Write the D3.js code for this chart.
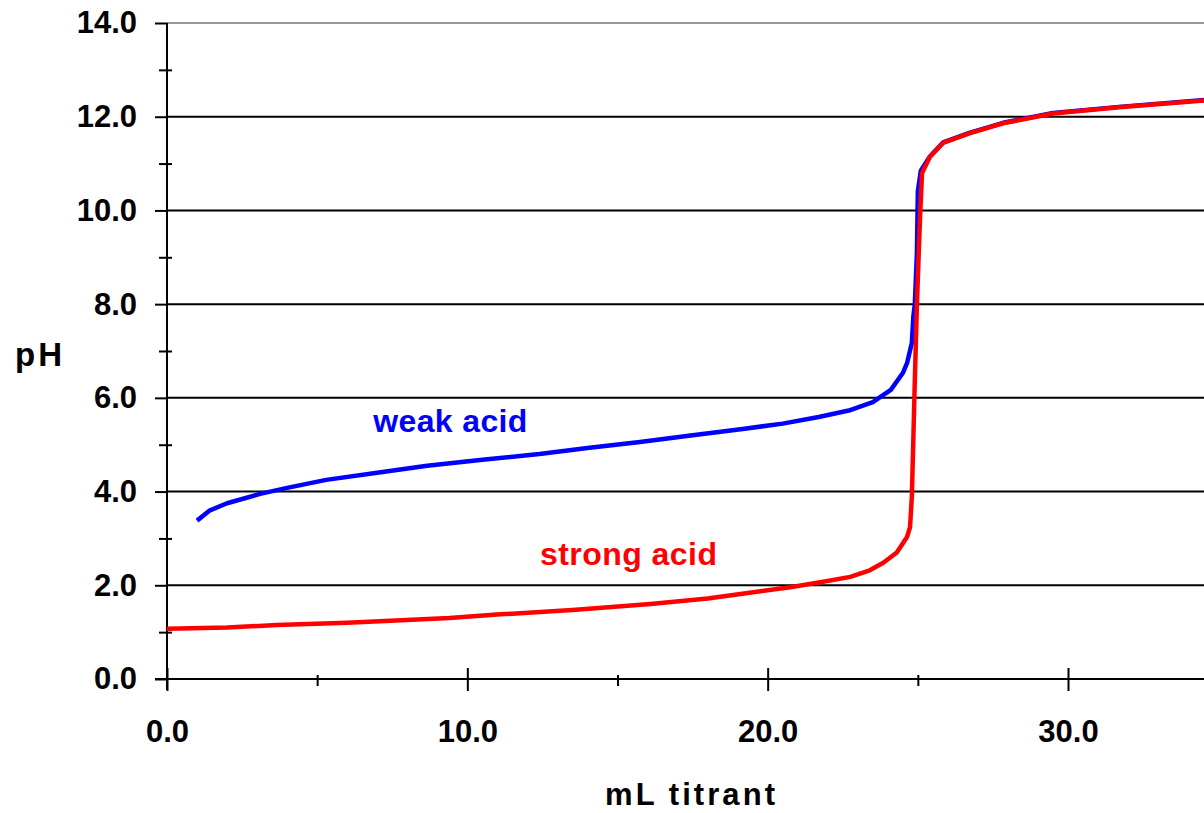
<!DOCTYPE html>
<html>
<head>
<meta charset="utf-8">
<script src="https://cdn.jsdelivr.net/npm/d3@7"></script>
<style>
  body { margin: 0; background: #fff; }
  svg { display: block; font-family: "Liberation Sans", Arial, sans-serif; }
</style>
</head>
<body>
<div id="chart"></div>
<script>
const weakX  = [1.0, 1.43, 2.0, 3.1, 4.0, 5.3, 7.0, 8.66, 10.5, 12.4, 14.0, 15.75, 17.5, 19.1, 20.5, 21.7, 22.7, 23.5, 24.1, 24.5, 24.64, 24.8, 24.85, 24.9, 24.97, 25.0, 25.1, 25.4, 25.84, 26.74, 27.84, 29.5, 31.7, 34.6];
const weakPH = [3.38, 3.6, 3.75, 3.95, 4.08, 4.25, 4.4, 4.55, 4.68, 4.8, 4.93, 5.06, 5.2, 5.33, 5.45, 5.59, 5.73, 5.91, 6.17, 6.53, 6.74, 7.17, 7.73, 8.0, 9.1, 10.4, 10.85, 11.15, 11.45, 11.66, 11.87, 12.08, 12.21, 12.36];

const strongX  = [0, 2.0, 3.66, 6.0, 9.4, 11.1, 13.5, 16.1, 18.0, 19.4, 20.75, 21.8, 22.75, 23.4, 23.85, 24.3, 24.64, 24.74, 24.8, 24.85, 24.9, 24.97, 25.07, 25.14, 25.4, 25.84, 26.74, 27.84, 29.5, 31.7, 34.6];
const strongPH = [1.07, 1.1, 1.15, 1.2, 1.3, 1.38, 1.47, 1.6, 1.72, 1.84, 1.96, 2.07, 2.18, 2.32, 2.48, 2.7, 3.03, 3.24, 3.88, 5.1, 6.38, 8.0, 9.8, 10.8, 11.14, 11.44, 11.65, 11.86, 12.07, 12.2, 12.35];

const yMajor = [0, 2, 4, 6, 8, 10, 12, 14];
const yMinor = [1, 3, 5, 7, 9, 11, 13];
const xMajor = [0, 10, 20, 30];
const xMinor = [5, 15, 25];

const width = 1204, height = 813;
const plotLeft = 167, plotTop = 23, plotBottom = 679;

const x = d3.scaleLinear().domain([0, 30]).range([plotLeft, 1068]);
const y = d3.scaleLinear().domain([0, 14]).range([plotBottom, plotTop]);

const svg = d3.select("#chart").append("svg")
    .attr("width", width)
    .attr("height", height);

svg.append("defs").append("clipPath").attr("id", "plot")
    .append("rect")
    .attr("x", plotLeft).attr("y", 0)
    .attr("width", width - plotLeft).attr("height", plotBottom + 2);

// gridlines
svg.append("g").selectAll("line")
    .data(yMajor.filter(d => d > 0))
    .enter().append("line")
    .attr("x1", plotLeft)
    .attr("x2", width)
    .attr("y1", d => y(d))
    .attr("y2", d => y(d))
    .attr("stroke", d => d === 14 ? "#999" : "#000")
    .attr("stroke-width", 2);

// y axis
const yAxis = svg.append("g")
    .attr("transform", `translate(${plotLeft},0)`)
    .call(d3.axisLeft(y).tickValues(yMajor).tickSize(12).tickPadding(18).tickFormat(d3.format(".1f")));
yAxis.select(".domain").remove();
yAxis.selectAll("line").attr("stroke", "#000").attr("stroke-width", 2);
yAxis.selectAll("text")
    .attr("font-size", 31).attr("font-weight", "bold").attr("fill", "#000")
    .attr("font-family", "Liberation Sans, Arial, sans-serif");

const yMin = svg.append("g")
    .attr("transform", `translate(${plotLeft + 5},0)`)
    .call(d3.axisLeft(y).tickValues(yMinor).tickSize(13).tickFormat(""));
yMin.select(".domain").remove();
yMin.selectAll("line").attr("stroke", "#000").attr("stroke-width", 2);

// x axis
const xAxis = svg.append("g")
    .attr("transform", `translate(0,${plotBottom - 11})`)
    .call(d3.axisBottom(x).tickValues(xMajor).tickSize(23).tickPadding(29).tickFormat(d3.format(".1f")));
xAxis.select(".domain").remove();
xAxis.selectAll("line").attr("stroke", "#000").attr("stroke-width", 2);
xAxis.selectAll("text")
    .attr("font-size", 31).attr("font-weight", "bold").attr("fill", "#000")
    .attr("font-family", "Liberation Sans, Arial, sans-serif");

const xMin = svg.append("g")
    .attr("transform", `translate(0,${plotBottom - 4})`)
    .call(d3.axisBottom(x).tickValues(xMinor).tickSize(11).tickFormat(""));
xMin.select(".domain").remove();
xMin.selectAll("line").attr("stroke", "#000").attr("stroke-width", 2);

// axis lines
svg.append("line")
    .attr("x1", plotLeft).attr("x2", plotLeft)
    .attr("y1", plotTop).attr("y2", plotBottom + 11)
    .attr("stroke", "#000").attr("stroke-width", 2);
svg.append("line")
    .attr("x1", plotLeft - 12).attr("x2", width)
    .attr("y1", plotBottom).attr("y2", plotBottom)
    .attr("stroke", "#000").attr("stroke-width", 2);

// curves
const line = d3.line()
    .x(d => x(d[0]))
    .y(d => y(d[1]));

const curves = svg.append("g").attr("clip-path", "url(#plot)");

curves.append("path")
    .datum(d3.zip(weakX, weakPH))
    .attr("d", line)
    .attr("fill", "none")
    .attr("stroke", "#0000ff")
    .attr("stroke-width", 4.5)
    .attr("stroke-linejoin", "round");

curves.append("path")
    .datum(d3.zip(strongX, strongPH))
    .attr("d", line)
    .attr("fill", "none")
    .attr("stroke", "#ff0000")
    .attr("stroke-width", 4.5)
    .attr("stroke-linejoin", "round");

// labels
svg.append("text")
    .attr("x", x(6.87)).attr("y", y(5.27))
    .attr("font-size", 32).attr("font-weight", "bold")
    .attr("fill", "#0000ff")
    .attr("textLength", 154).attr("lengthAdjust", "spacing")
    .text("weak acid");

svg.append("text")
    .attr("x", x(12.42)).attr("y", y(2.43))
    .attr("font-size", 32).attr("font-weight", "bold")
    .attr("fill", "#ff0000")
    .attr("textLength", 177).attr("lengthAdjust", "spacing")
    .text("strong acid");

svg.append("text")
    .attr("x", 15).attr("y", 366)
    .attr("font-size", 33).attr("font-weight", "bold")
    .attr("fill", "#000")
    .attr("textLength", 47).attr("lengthAdjust", "spacing")
    .text("pH");

svg.append("text")
    .attr("x", 605).attr("y", 805)
    .attr("font-size", 31).attr("font-weight", "bold")
    .attr("fill", "#000")
    .attr("textLength", 170).attr("lengthAdjust", "spacing")
    .text("mL titrant");
</script>
</body>
</html>
